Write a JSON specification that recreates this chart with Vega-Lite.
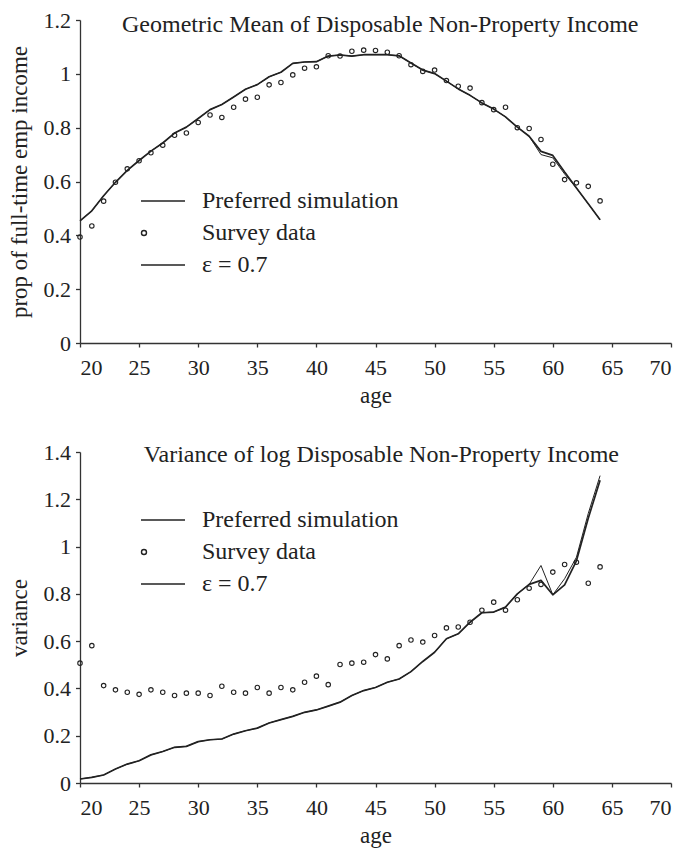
{
  "$schema": "https://vega.github.io/schema/vega-lite/v6.json",
  "background": "white",
  "padding": {"left": 8, "top": 9, "right": 5, "bottom": 5},
  "bounds": "flush",
  "spacing": 109,
  "config": {
    "view": {"stroke": null},
    "font": "Liberation Serif",
    "axis": {
      "grid": false,
      "domainColor": "#333",
      "tickColor": "#333",
      "domainWidth": 1.3,
      "tickWidth": 1.3,
      "labelFont": "Liberation Serif",
      "labelFontSize": 22,
      "labelColor": "#222",
      "titleFont": "Liberation Serif",
      "titleFontWeight": "normal",
      "titleColor": "#222"
    },
    "legend": {
      "labelFont": "Liberation Serif",
      "labelFontSize": 24,
      "labelColor": "#222",
      "labelLimit": 0,
      "symbolStrokeWidth": 1.4,
      "symbolStrokeColor": "#222",
      "padding": 0
    }
  },
  "datasets": {
    "mean": [
      {"age": 20, "sim": 0.454, "survey": 0.394, "eps": 0.454},
      {"age": 21, "sim": 0.491, "survey": 0.435, "eps": 0.491},
      {"age": 22, "sim": 0.547, "survey": 0.527, "eps": 0.547},
      {"age": 23, "sim": 0.597, "survey": 0.597, "eps": 0.597},
      {"age": 24, "sim": 0.641, "survey": 0.647, "eps": 0.641},
      {"age": 25, "sim": 0.678, "survey": 0.677, "eps": 0.678},
      {"age": 26, "sim": 0.713, "survey": 0.707, "eps": 0.713},
      {"age": 27, "sim": 0.743, "survey": 0.735, "eps": 0.743},
      {"age": 28, "sim": 0.78, "survey": 0.772, "eps": 0.78},
      {"age": 29, "sim": 0.802, "survey": 0.78, "eps": 0.802},
      {"age": 30, "sim": 0.834, "survey": 0.819, "eps": 0.834},
      {"age": 31, "sim": 0.867, "survey": 0.847, "eps": 0.867},
      {"age": 32, "sim": 0.886, "survey": 0.838, "eps": 0.886},
      {"age": 33, "sim": 0.914, "survey": 0.876, "eps": 0.914},
      {"age": 34, "sim": 0.943, "survey": 0.906, "eps": 0.943},
      {"age": 35, "sim": 0.96, "survey": 0.913, "eps": 0.96},
      {"age": 36, "sim": 0.989, "survey": 0.959, "eps": 0.989},
      {"age": 37, "sim": 1.006, "survey": 0.968, "eps": 1.006},
      {"age": 38, "sim": 1.039, "survey": 0.996, "eps": 1.039},
      {"age": 39, "sim": 1.044, "survey": 1.021, "eps": 1.044},
      {"age": 40, "sim": 1.045, "survey": 1.026, "eps": 1.045},
      {"age": 41, "sim": 1.066, "survey": 1.067, "eps": 1.066},
      {"age": 42, "sim": 1.07, "survey": 1.066, "eps": 1.07},
      {"age": 43, "sim": 1.066, "survey": 1.084, "eps": 1.066},
      {"age": 44, "sim": 1.071, "survey": 1.088, "eps": 1.071},
      {"age": 45, "sim": 1.071, "survey": 1.087, "eps": 1.071},
      {"age": 46, "sim": 1.071, "survey": 1.08, "eps": 1.071},
      {"age": 47, "sim": 1.067, "survey": 1.067, "eps": 1.067},
      {"age": 48, "sim": 1.04, "survey": 1.034, "eps": 1.04},
      {"age": 49, "sim": 1.014, "survey": 1.009, "eps": 1.014},
      {"age": 50, "sim": 1.001, "survey": 1.014, "eps": 1.001},
      {"age": 51, "sim": 0.973, "survey": 0.975, "eps": 0.973},
      {"age": 52, "sim": 0.944, "survey": 0.954, "eps": 0.944},
      {"age": 53, "sim": 0.92, "survey": 0.947, "eps": 0.92},
      {"age": 54, "sim": 0.892, "survey": 0.893, "eps": 0.892},
      {"age": 55, "sim": 0.869, "survey": 0.867, "eps": 0.869},
      {"age": 56, "sim": 0.84, "survey": 0.876, "eps": 0.84},
      {"age": 57, "sim": 0.802, "survey": 0.8, "eps": 0.802},
      {"age": 58, "sim": 0.768, "survey": 0.797, "eps": 0.768},
      {"age": 59, "sim": 0.712, "survey": 0.756, "eps": 0.7},
      {"age": 60, "sim": 0.697, "survey": 0.664, "eps": 0.688},
      {"age": 61, "sim": 0.635, "survey": 0.607, "eps": 0.628},
      {"age": 62, "sim": 0.576, "survey": 0.595, "eps": 0.576},
      {"age": 63, "sim": 0.517, "survey": 0.582, "eps": 0.517},
      {"age": 64, "sim": 0.458, "survey": 0.528, "eps": 0.458}
    ],
    "variance": [
      {"age": 20, "sim": 0.017, "survey": 0.507, "eps": 0.017},
      {"age": 21, "sim": 0.024, "survey": 0.581, "eps": 0.024},
      {"age": 22, "sim": 0.034, "survey": 0.412, "eps": 0.034},
      {"age": 23, "sim": 0.059, "survey": 0.394, "eps": 0.059},
      {"age": 24, "sim": 0.08, "survey": 0.384, "eps": 0.08},
      {"age": 25, "sim": 0.094, "survey": 0.375, "eps": 0.094},
      {"age": 26, "sim": 0.119, "survey": 0.394, "eps": 0.119},
      {"age": 27, "sim": 0.133, "survey": 0.384, "eps": 0.133},
      {"age": 28, "sim": 0.151, "survey": 0.37, "eps": 0.151},
      {"age": 29, "sim": 0.155, "survey": 0.38, "eps": 0.155},
      {"age": 30, "sim": 0.175, "survey": 0.38, "eps": 0.175},
      {"age": 31, "sim": 0.183, "survey": 0.37, "eps": 0.183},
      {"age": 32, "sim": 0.186, "survey": 0.409, "eps": 0.186},
      {"age": 33, "sim": 0.207, "survey": 0.384, "eps": 0.207},
      {"age": 34, "sim": 0.221, "survey": 0.38, "eps": 0.221},
      {"age": 35, "sim": 0.232, "survey": 0.404, "eps": 0.232},
      {"age": 36, "sim": 0.254, "survey": 0.38, "eps": 0.254},
      {"age": 37, "sim": 0.268, "survey": 0.404, "eps": 0.268},
      {"age": 38, "sim": 0.282, "survey": 0.394, "eps": 0.282},
      {"age": 39, "sim": 0.299, "survey": 0.426, "eps": 0.299},
      {"age": 40, "sim": 0.309, "survey": 0.452, "eps": 0.309},
      {"age": 41, "sim": 0.325, "survey": 0.416, "eps": 0.325},
      {"age": 42, "sim": 0.342, "survey": 0.501, "eps": 0.342},
      {"age": 43, "sim": 0.37, "survey": 0.507, "eps": 0.37},
      {"age": 44, "sim": 0.391, "survey": 0.511, "eps": 0.391},
      {"age": 45, "sim": 0.404, "survey": 0.543, "eps": 0.404},
      {"age": 46, "sim": 0.426, "survey": 0.525, "eps": 0.426},
      {"age": 47, "sim": 0.44, "survey": 0.581, "eps": 0.44},
      {"age": 48, "sim": 0.471, "survey": 0.605, "eps": 0.471},
      {"age": 49, "sim": 0.514, "survey": 0.596, "eps": 0.514},
      {"age": 50, "sim": 0.553, "survey": 0.624, "eps": 0.553},
      {"age": 51, "sim": 0.61, "survey": 0.656, "eps": 0.61},
      {"age": 52, "sim": 0.631, "survey": 0.66, "eps": 0.631},
      {"age": 53, "sim": 0.68, "survey": 0.68, "eps": 0.68},
      {"age": 54, "sim": 0.72, "survey": 0.731, "eps": 0.72},
      {"age": 55, "sim": 0.723, "survey": 0.765, "eps": 0.723},
      {"age": 56, "sim": 0.744, "survey": 0.731, "eps": 0.744},
      {"age": 57, "sim": 0.8, "survey": 0.775, "eps": 0.8},
      {"age": 58, "sim": 0.84, "survey": 0.824, "eps": 0.84},
      {"age": 59, "sim": 0.857, "survey": 0.84, "eps": 0.92},
      {"age": 60, "sim": 0.796, "survey": 0.892, "eps": 0.796},
      {"age": 61, "sim": 0.838, "survey": 0.924, "eps": 0.864},
      {"age": 62, "sim": 0.94, "survey": 0.934, "eps": 0.955},
      {"age": 63, "sim": 1.12, "survey": 0.845, "eps": 1.14},
      {"age": 64, "sim": 1.28, "survey": 0.914, "eps": 1.3}
    ]
  },
  "resolve": {
    "scale": {"shape": "independent"},
    "legend": {"shape": "independent"}
  },
  "vconcat": [
    {
      "width": 591,
      "height": 323,
      "layer": [
        {
          "data": {"name": "mean"},
          "transform": [{"fold": ["sim", "survey", "eps"], "as": ["series", "value"]}],
          "encoding": {
            "x": {
              "field": "age", "type": "quantitative",
              "scale": {"domain": [20, 70], "nice": false, "zero": false},
              "axis": {"values": [20, 25, 30, 35, 40, 45, 50, 55, 60, 65, 70], "tickSize": 4, "labelPadding": 10, "labelFont": "Liberation Serif", "labelFontSize": 22, "title": "age", "titleFont": "Liberation Serif", "titleFontSize": 23, "titlePadding": 6}
            },
            "y": {
              "field": "value", "type": "quantitative",
              "scale": {"domain": [0, 1.2], "nice": false},
              "axis": {"values": [0, 0.2, 0.4, 0.6, 0.8, 1, 1.2], "format": "~g", "tickSize": 4.5, "labelPadding": 5, "labelFont": "Liberation Serif", "labelFontSize": 22, "title": "prop of full-time emp income", "titleFont": "Liberation Serif", "titleFontSize": 23, "titlePadding": 12}
            }
          },
          "layer": [
            {
              "transform": [{"filter": "datum.series == 'sim'"}],
              "mark": {"type": "line", "color": "#222", "strokeWidth": 1.7, "strokeJoin": "round"}
            },
            {
              "transform": [{"filter": "datum.series == 'eps'"}],
              "mark": {"type": "line", "color": "#222", "strokeWidth": 1, "strokeJoin": "round"}
            },
            {
              "transform": [{"filter": "datum.series == 'survey'"}],
              "mark": {"type": "point", "shape": "circle", "filled": false, "color": "#222", "size": 20, "strokeWidth": 1.1, "opacity": 1}
            },
            {
              "transform": [{"filter": "false"}],
              "mark": {"type": "point", "filled": false, "color": "#222", "opacity": 1},
              "encoding": {
                "shape": {
                  "field": "series", "type": "nominal",
                  "scale": {"domain": ["sim", "survey", "eps"], "range": ["M-1,0H1", "M-0.978,0A0.114,0.114 0 1,1 -0.75,0A0.114,0.114 0 1,1 -0.978,0Z", "M-1,0H1"]},
                  "legend": {"orient": "none", "legendX": 60, "legendY": 169, "title": null, "symbolSize": 1936, "clipHeight": 24, "rowPadding": 8, "labelOffset": 16, "labelExpr": "datum.value == 'sim' ? 'Preferred simulation' : datum.value == 'survey' ? 'Survey data' : 'ε = 0.7'"}
                }
              }
            }
          ]
        },
        {
          "data": {"values": [{"label": "Geometric Mean of Disposable Non-Property Income"}]},
          "mark": {"type": "text", "font": "Liberation Serif", "fontSize": 24, "align": "center", "baseline": "alphabetic", "color": "#222"},
          "encoding": {
            "text": {"field": "label"},
            "x": {"datum": 45.4, "type": "quantitative"},
            "y": {"datum": 1.1565, "type": "quantitative"}
          }
        }
      ]
    },
    {
      "width": 591,
      "height": 331,
      "layer": [
        {
          "data": {"name": "variance"},
          "transform": [{"fold": ["sim", "survey", "eps"], "as": ["series", "value"]}],
          "encoding": {
            "x": {
              "field": "age", "type": "quantitative",
              "scale": {"domain": [20, 70], "nice": false, "zero": false},
              "axis": {"values": [20, 25, 30, 35, 40, 45, 50, 55, 60, 65, 70], "tickSize": 4, "labelPadding": 10, "labelFont": "Liberation Serif", "labelFontSize": 22, "title": "age", "titleFont": "Liberation Serif", "titleFontSize": 23, "titlePadding": 6}
            },
            "y": {
              "field": "value", "type": "quantitative",
              "scale": {"domain": [0, 1.4], "nice": false},
              "axis": {"values": [0, 0.2, 0.4, 0.6, 0.8, 1, 1.2, 1.4], "format": "~g", "tickSize": 4.5, "labelPadding": 5, "labelFont": "Liberation Serif", "labelFontSize": 22, "title": "variance", "titleFont": "Liberation Serif", "titleFontSize": 23, "titlePadding": 12}
            }
          },
          "layer": [
            {
              "transform": [{"filter": "datum.series == 'sim'"}],
              "mark": {"type": "line", "color": "#222", "strokeWidth": 1.7, "strokeJoin": "round"}
            },
            {
              "transform": [{"filter": "datum.series == 'eps'"}],
              "mark": {"type": "line", "color": "#222", "strokeWidth": 1, "strokeJoin": "round"}
            },
            {
              "transform": [{"filter": "datum.series == 'survey'"}],
              "mark": {"type": "point", "shape": "circle", "filled": false, "color": "#222", "size": 20, "strokeWidth": 1.1, "opacity": 1}
            },
            {
              "transform": [{"filter": "false"}],
              "mark": {"type": "point", "filled": false, "color": "#222", "opacity": 1},
              "encoding": {
                "shape": {
                  "field": "series", "type": "nominal",
                  "scale": {"domain": ["sim", "survey", "eps"], "range": ["M-1,0H1", "M-0.978,0A0.114,0.114 0 1,1 -0.75,0A0.114,0.114 0 1,1 -0.978,0Z", "M-1,0H1"]},
                  "legend": {"orient": "none", "legendX": 60, "legendY": 56, "title": null, "symbolSize": 1936, "clipHeight": 24, "rowPadding": 8, "labelOffset": 16, "labelExpr": "datum.value == 'sim' ? 'Preferred simulation' : datum.value == 'survey' ? 'Survey data' : 'ε = 0.7'"}
                }
              }
            }
          ]
        },
        {
          "data": {"values": [{"label": "Variance of log Disposable Non-Property Income"}]},
          "mark": {"type": "text", "font": "Liberation Serif", "fontSize": 24, "align": "center", "baseline": "alphabetic", "color": "#222"},
          "encoding": {
            "text": {"field": "label"},
            "x": {"datum": 45.5, "type": "quantitative"},
            "y": {"datum": 1.357, "type": "quantitative"}
          }
        }
      ]
    }
  ]
}
